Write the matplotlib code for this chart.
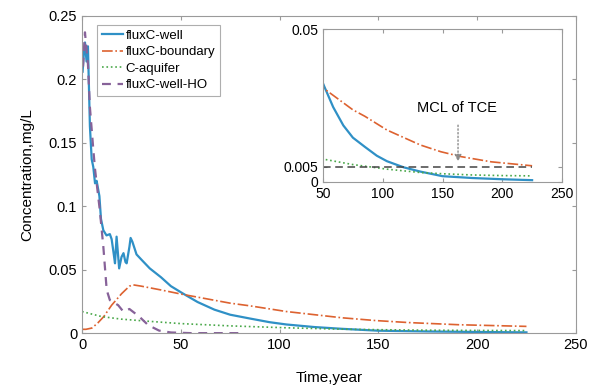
import matplotlib
matplotlib.use("Agg")
import matplotlib.pyplot as plt

plt.rcParams["font.family"] = ["Liberation Sans", "DejaVu Sans"]

# fluxC-well
t_well = [0.3, 1.0, 1.5, 2.3, 3.0, 4.0, 4.9, 5.7, 6.6, 7.4, 8.8, 9.6, 10.8, 12.4, 14.1, 15.0,
          16.0, 16.7, 17.5, 18.8, 20.0, 21.0, 22.0, 22.6, 24.0, 24.6, 25.5, 27.6, 30.0,
          34.3, 40.0, 45.0, 51.0, 58.5, 67.0, 75.0, 85.0, 95.0, 103.5, 117.5, 131.5, 150.0,
          175.0, 200.0, 225.0]
c_well = [0.206, 0.222, 0.229, 0.214, 0.226, 0.163, 0.137, 0.131, 0.118, 0.120, 0.108, 0.090,
          0.081, 0.077, 0.078, 0.074, 0.063, 0.055, 0.076, 0.051, 0.060, 0.063, 0.056, 0.055,
          0.068, 0.075, 0.072, 0.062, 0.058, 0.051, 0.044, 0.037, 0.0313, 0.0245, 0.0185,
          0.0145, 0.0115, 0.0086, 0.0068, 0.0048, 0.0034, 0.0019, 0.0013, 0.0009, 0.0006]

# fluxC-boundary
t_bnd = [0, 2, 5, 8, 11, 15, 20, 24, 26, 30, 40, 51, 75, 85, 103.5, 131.5, 148.6, 165.5,
         190.8, 225]
c_bnd = [0.003, 0.003, 0.004, 0.008, 0.013, 0.022, 0.031, 0.037, 0.038, 0.037, 0.034,
         0.0305, 0.0236, 0.0215, 0.017, 0.0121, 0.0099, 0.0083, 0.0066, 0.0053]

# C-aquifer
t_aq = [0, 5, 10, 20, 34, 50, 75, 103.5, 131.5, 150, 175, 200, 225]
c_aq = [0.017, 0.015, 0.013, 0.011, 0.0093, 0.0075, 0.0057, 0.0042, 0.0031, 0.0027, 0.0023,
        0.0021, 0.002]

# fluxC-well-HO
t_ho = [0.5, 1.5, 2.0, 3.0, 4.0, 5.7, 6.6, 9.0, 10.8, 12.5, 14.1, 18.3, 20.9, 24.0, 29.0,
        33.5, 39.0, 45.0, 55.0, 80.0]
c_ho = [0.21, 0.237, 0.228, 0.212, 0.178, 0.145, 0.129, 0.097, 0.068, 0.034, 0.026, 0.022,
        0.017, 0.019, 0.013, 0.0063, 0.002, 0.0005, 0.0, 0.0]

mcl_t = [50, 225]
mcl_c = [0.005, 0.005]

col_well = "#2f90c6"
col_bnd = "#dd6230"
col_aq = "#4aa84a"
col_ho = "#876299"
spine = "#9a9a9a"

fig = plt.figure(figsize=(5.9, 3.86), dpi=100)
ax = fig.add_axes([0.139, 0.137, 0.837, 0.822])
ax.plot(t_well, c_well, color=col_well, lw=1.6, label="fluxC-well")
ax.plot(t_bnd, c_bnd, color=col_bnd, lw=1.2, ls="-.", label="fluxC-boundary")
ax.plot(t_aq, c_aq, color=col_aq, lw=1.2, ls=":", label="C-aquifer")
ax.plot(t_ho, c_ho, color=col_ho, lw=1.6, ls=(0, (4, 3)), label="fluxC-well-HO")
ax.set_xlim(0, 250)
ax.set_ylim(0, 0.25)
ax.set_xticks([0, 50, 100, 150, 200, 250])
ax.set_yticks([0, 0.05, 0.1, 0.15, 0.2, 0.25])
ax.set_yticklabels(["0", "0.05", "0.1", "0.15", "0.2", "0.25"])
ax.tick_params(direction="in", top=True, right=True, labelsize=10.5, length=3, color=spine)
for s in ax.spines.values():
    s.set_color(spine)
ax.set_xlabel("Time,year", fontsize=11, labelpad=14)
ax.set_ylabel("Concentration,mg/L", fontsize=11, labelpad=10)
leg = ax.legend(loc="upper left", bbox_to_anchor=(0.025, 0.98), fontsize=9.5,
                frameon=True, fancybox=False, handlelength=1.6, handletextpad=0.2,
                borderpad=0.35, labelspacing=0.33, borderaxespad=0.2)
leg.get_frame().set_edgecolor(spine)
leg.get_frame().set_linewidth(0.8)

ins = fig.add_axes([0.5475, 0.5285, 0.405, 0.396])
ins.plot(t_well, c_well, color=col_well, lw=1.6)
ins.plot(t_bnd, c_bnd, color=col_bnd, lw=1.2, ls="-.")
ins.plot(t_aq, c_aq, color=col_aq, lw=1.2, ls=":")
ins.plot(mcl_t, mcl_c, color="#444444", lw=1.1, ls=(0, (5, 3)))
ins.set_xlim(50, 250)
ins.set_ylim(0, 0.05)
ins.set_xticks([50, 100, 150, 200, 250])
ins.set_yticks([0, 0.005, 0.05])
ins.set_yticklabels(["0", "0.005", "0.05"])
ins.tick_params(direction="in", top=True, right=True, labelsize=10, length=3, color=spine)
for s in ins.spines.values():
    s.set_color(spine)
ins.annotate("", xy=(163, 0.0058), xytext=(163, 0.0195),
             arrowprops=dict(arrowstyle="-|>", color="#8a8a8a", ls=":", lw=1.0))
ins.text(162, 0.0242, "MCL of TCE", fontsize=10.5, ha="center", va="center")

fig.savefig("out.png", dpi=100)
